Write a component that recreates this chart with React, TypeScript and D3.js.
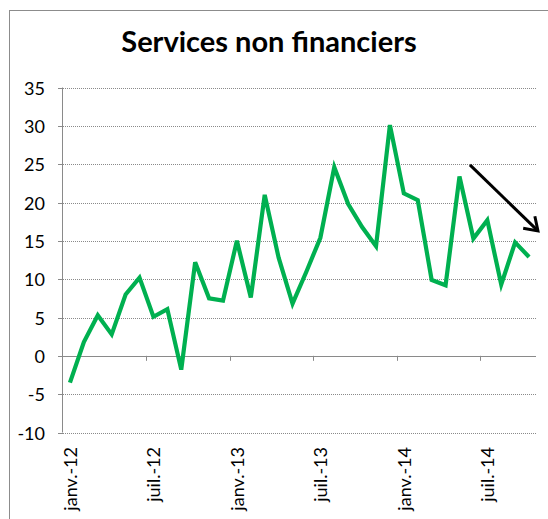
import React from "react";
import * as d3 from "d3";

const monthNames = ["janv.", "févr.", "mars", "avr.", "mai", "juin", "juil.", "août", "sept.", "oct.", "nov.", "déc."];
const years = ["12", "13", "14"];
const categories: string[] = [];
years.forEach((y) => monthNames.forEach((m) => categories.push(`${m}-${y}`)));
const months = categories.slice(0, 34);

const values = [
  -3.5, 1.8, 5.3, 2.8, 8.0, 10.2, 5.1, 6.1, -1.8, 12.2, 7.5, 7.2,
  15.0, 7.6, 21.0, 12.8, 6.8, 11.0, 15.4, 24.6, 19.8, 16.8, 14.3, 30.1,
  21.2, 20.3, 9.9, 9.2, 23.4, 15.3, 17.7, 9.3, 14.8, 12.9,
];

const yTicks = [-10, -5, 0, 5, 10, 15, 20, 25, 30, 35];
const labelEvery = 6;
const title = "Services non financiers";
// arrow annotation: [category index, value]
const arrowStart = [28.75, 24.9];
const arrowEnd = [33.64, 16.3];

const W = 548;
const H = 519;
const left = 63;
const right = 536;
const top = 87.5;
const bottom = 432.5;
const FONT = "Lato, 'Open Sans', sans-serif";

export default function App() {
  const x = d3.scaleBand<string>().domain(months).range([left, right]).padding(0);
  const bw = x.bandwidth();
  const cx = (i: number) => left + (i + 0.5) * bw;
  const y = d3.scaleLinear().domain([-10, 35]).range([bottom, top]);

  const line = d3
    .line<number>()
    .x((_, i) => (x(months[i]) as number) + bw / 2)
    .y((d) => y(d));

  const tickPositions = d3.range(labelEvery, months.length, labelEvery).map((i) => x(months[i]) as number);

  const ax1 = cx(arrowStart[0]);
  const ay1 = y(arrowStart[1]);
  const ax2 = cx(arrowEnd[0]);
  const ay2 = y(arrowEnd[1]);
  const ang = Math.atan2(ay2 - ay1, ax2 - ax1);
  const hl = 15;
  const ha = (34 * Math.PI) / 180;
  const w1 = [ax2 - hl * Math.cos(ang - ha), ay2 - hl * Math.sin(ang - ha)];
  const w2 = [ax2 - hl * Math.cos(ang + ha), ay2 - hl * Math.sin(ang + ha)];

  return (
    <svg width={W} height={H} style={{ position: "absolute", left: 0, top: 0, background: "#fff" }}>
      <rect x={9.5} y={10.5} width={W + 10} height={H + 10} fill="#fff" stroke="#8c8c8c" strokeWidth={1} />
      <text x={269} y={52} textAnchor="middle" fontFamily={FONT} fontWeight="bold" fontSize={29} fill="#000">
        {title}
      </text>
      {yTicks.map((t) => (
        <g key={t}>
          {t !== 0 && (
            <line x1={left} x2={right} y1={Math.round(y(t)) + 0.5} y2={Math.round(y(t)) + 0.5} stroke="#8a8a8a" strokeWidth={1} strokeDasharray="1,1" />
          )}
          <line x1={left - 5} x2={left} y1={Math.round(y(t)) + 0.5} y2={Math.round(y(t)) + 0.5} stroke="#8a8a8a" strokeWidth={1} />
          <text x={45} y={y(t)} textAnchor="end" dominantBaseline="central" fontFamily={FONT} fontSize={18} fill="#000">
            {t}
          </text>
        </g>
      ))}
      <line x1={left - 0.5} x2={left - 0.5} y1={top} y2={bottom} stroke="#8a8a8a" strokeWidth={1} />
      <line x1={left} x2={right} y1={Math.round(y(0)) + 0.5} y2={Math.round(y(0)) + 0.5} stroke="#8a8a8a" strokeWidth={1} />
      {tickPositions.map((p, i) => (
        <line key={i} x1={Math.round(p) + 0.5} x2={Math.round(p) + 0.5} y1={y(0)} y2={y(0) + 5} stroke="#8a8a8a" strokeWidth={1} />
      ))}
      {months.map((m, i) =>
        i % labelEvery === 0 ? (
          <text
            key={m}
            transform={`translate(${(x(m) as number) + bw / 2},447) rotate(-90)`}
            textAnchor="end"
            dominantBaseline="central"
            fontFamily={FONT}
            fontSize={18}
            fill="#000"
          >
            {m}
          </text>
        ) : null
      )}
      <path d={line(values) as string} fill="none" stroke="#00B050" strokeWidth={4.2} strokeLinejoin="miter" />
      <line x1={ax1} y1={ay1} x2={ax2} y2={ay2} stroke="#000" strokeWidth={3} />
      <polyline points={`${w1[0]},${w1[1]} ${ax2},${ay2} ${w2[0]},${w2[1]}`} fill="none" stroke="#000" strokeWidth={3} />
    </svg>
  );
}
